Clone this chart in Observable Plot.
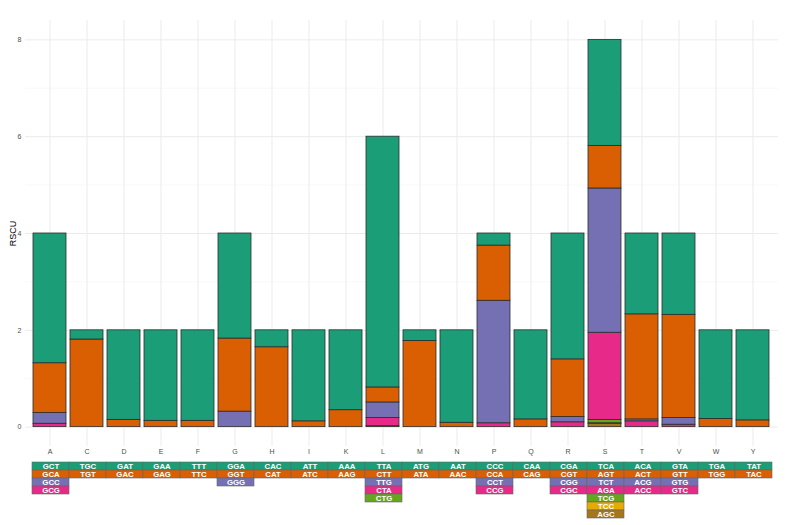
<!DOCTYPE html>
<html>
<head>
<meta charset="utf-8">
<script src="https://cdn.jsdelivr.net/npm/d3@7"></script>
<script src="https://cdn.jsdelivr.net/npm/@observablehq/plot@0.6"></script>
<style>
  html, body { margin: 0; padding: 0; background: #fff; }
  #chart svg { display: block; }
</style>
</head>
<body>
<div id="chart"></div>
<script>
const aminoAcids = ["A","C","D","E","F","G","H","I","K","L","M","N","P","Q","R","S","T","V","W","Y"];
const codons = [
  ["GCT","GCA","GCC","GCG"],
  ["TGC","TGT"],
  ["GAT","GAC"],
  ["GAA","GAG"],
  ["TTT","TTC"],
  ["GGA","GGT","GGG"],
  ["CAC","CAT"],
  ["ATT","ATC"],
  ["AAA","AAG"],
  ["TTA","CTT","TTG","CTA","CTG"],
  ["ATG","ATA"],
  ["AAT","AAC"],
  ["CCC","CCA","CCT","CCG"],
  ["CAA","CAG"],
  ["CGA","CGT","CGG","CGC"],
  ["TCA","AGT","TCT","AGA","TCG","TCC","AGC"],
  ["ACA","ACT","ACG","ACC"],
  ["GTA","GTT","GTG","GTC"],
  ["TGA","TGG"],
  ["TAT","TAC"]
];
const rscu = [
  [2.68,1.03,0.22,0.07],
  [0.19,1.81],
  [1.85,0.15],
  [1.87,0.13],
  [1.87,0.13],
  [2.17,1.51,0.32],
  [0.35,1.65],
  [1.88,0.12],
  [1.65,0.35],
  [5.18,0.31,0.32,0.17,0.02],
  [0.22,1.78],
  [1.91,0.09],
  [0.25,1.14,2.53,0.08],
  [1.84,0.16],
  [2.60,1.19,0.11,0.10],
  [2.19,0.88,2.98,1.80,0.07,0.01,0.07],
  [1.67,2.17,0.04,0.12],
  [1.68,2.13,0.14,0.05],
  [1.83,0.17],
  [1.86,0.14]
];
const palette = ["#1b9e77","#d95f02","#7570b3","#e7298a","#66a61e","#e6ab02","#a6761d"];
const ranks = [0,1,2,3,4,5,6];
const yTicks = [0,2,4,6,8];
const yMinor = [1,3,5,7];

// rows in reverse order per amino acid so the first codon sits on top of the stack
const barRows = [];
const tableRows = [];
aminoAcids.forEach((aa, i) => {
  codons[i].forEach((c, j) => tableRows.push({aa, codon: c, rank: j, value: rscu[i][j]}));
  for (let j = codons[i].length - 1; j >= 0; j--) {
    barRows.push({aa, codon: codons[i][j], rank: j, value: rscu[i][j]});
  }
});

const font = "'Liberation Sans', Arial, Helvetica, sans-serif";

const bars = Plot.plot({
  width: 787,
  height: 458,
  marginLeft: 25,
  marginRight: 9,
  marginTop: 20,
  marginBottom: 12,
  style: {fontFamily: font, background: "#fff"},
  x: {type: "band", domain: aminoAcids, paddingInner: 0.1, paddingOuter: 0.15, axis: null},
  y: {domain: [-0.4, 8.4], axis: null},
  color: {type: "ordinal", domain: ranks, range: palette},
  marks: [
    Plot.ruleY(yMinor, {stroke: "#f3f3f3", strokeWidth: 0.6}),
    Plot.ruleY(yTicks, {stroke: "#ebebeb", strokeWidth: 1}),
    Plot.ruleX(aminoAcids, {x: d => d, y1: -0.4, y2: 8.4, stroke: "#ebebeb", strokeWidth: 1}),
    Plot.barY(barRows, {x: "aa", y: "value", fill: "rank", stroke: "#2b2b2b", strokeWidth: 0.8}),
    Plot.axisY(yTicks, {tickSize: 0, tickPadding: 4, fontSize: 7, fill: "#4d4d4d", label: null}),
    Plot.axisX({tickSize: 0, tickPadding: 3, fontSize: 7, fill: "#4d4d4d", label: null}),
    Plot.text(["RSCU"], {frameAnchor: "left", dx: -12, rotate: -90, fontSize: 9, fill: "#000", textAnchor: "middle"})
  ]
});

const table = Plot.plot({
  width: 787,
  height: 67,
  marginLeft: 25,
  marginRight: 9,
  marginTop: 3,
  marginBottom: 5.2,
  style: {fontFamily: font, background: "#fff"},
  x: {type: "band", domain: aminoAcids, paddingInner: 0, paddingOuter: 0.1, axis: null},
  y: {type: "band", domain: ranks, paddingInner: 0, paddingOuter: 0, axis: null},
  color: {type: "ordinal", domain: ranks, range: palette},
  marks: [
    Plot.cell(tableRows, {x: "aa", y: "rank", fill: "rank", stroke: "#666", strokeWidth: 0.6}),
    Plot.text(tableRows, {x: "aa", y: "rank", text: "codon", fill: "white", fontWeight: "bold", fontSize: 7.8})
  ]
});

const root = document.getElementById("chart");
root.appendChild(bars);
root.appendChild(table);
</script>
</body>
</html>
